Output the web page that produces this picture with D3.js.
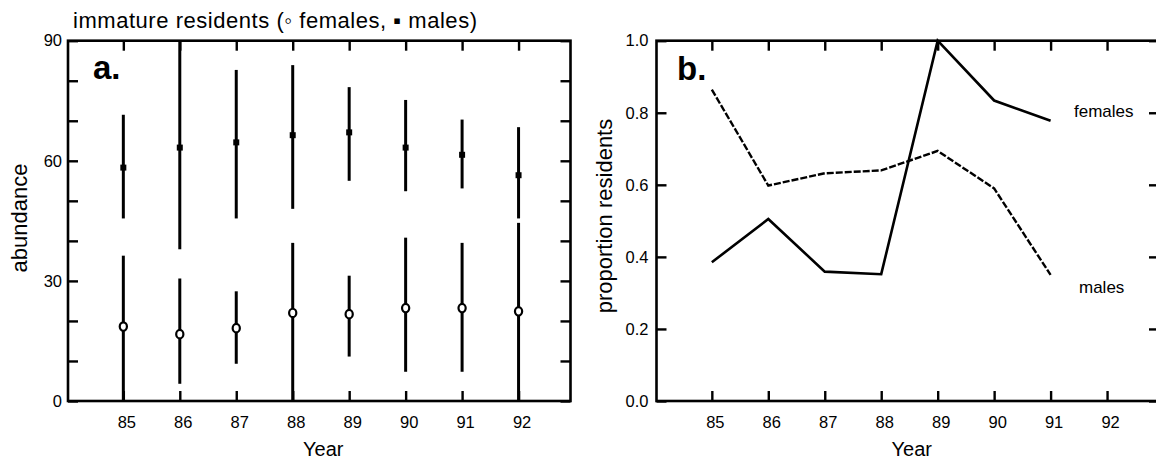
<!DOCTYPE html>
<html>
<head>
<meta charset="utf-8">
<script src="https://cdn.jsdelivr.net/npm/d3@7"></script>
<style>
  html, body { margin: 0; padding: 0; background: #fff; }
  svg { display: block; }
  text { font-family: "Liberation Sans", Arial, Helvetica, sans-serif; fill: #000; }
</style>
</head>
<body>
<svg id="chart" width="1156" height="459"></svg>
<script>
// ---------- data ----------
const years = [85, 86, 87, 88, 89, 90, 91, 92];
const maleMean = [58.3, 63.3, 64.6, 66.4, 67.1, 63.3, 61.5, 56.4];
const maleLow = [45.6, 37.9, 45.6, 48.0, 55.0, 52.4, 53.1, 45.6];
const maleHigh = [71.5, 90.0, 82.7, 83.9, 78.4, 75.2, 70.3, 68.4];
const femaleMean = [18.6, 16.7, 18.2, 22.0, 21.7, 23.2, 23.2, 22.4];
const femaleLow = [0.0, 4.3, 9.3, 0.0, 11.1, 7.3, 7.3, 0.0];
const femaleHigh = [36.3, 30.6, 27.4, 39.5, 31.3, 40.8, 39.5, 44.5];

const propYears = [85, 86, 87, 88, 89, 90, 91];
const propFemales = [0.385, 0.505, 0.359, 0.352, 1.0, 0.834, 0.778];
const propMales = [0.864, 0.598, 0.632, 0.640, 0.694, 0.590, 0.350];

const abundanceTicks = [0, 10, 20, 30, 40, 50, 60, 70, 80, 90];
const abundanceLabels = [0, 30, 60, 90];
const proportionTicks = [0, 0.2, 0.4, 0.6, 0.8, 1.0];

const titleParts = ["immature residents (", "\u25E6", " females, ", "\u25AA", " males)"];

// ---------- layout ----------
const svg = d3.select("#chart");
const plotTop = 40.7, plotBottom = 401;
const panelA = { x0: 68, x1: 570.5 };
const panelB = { x0: 656.5, x1: 1159 };
const xDomain = [84.02, 92.92];
const tickLen = 10;

function frame(p) {
  svg.append("rect")
    .attr("x", p.x0).attr("y", plotTop)
    .attr("width", p.x1 - p.x0).attr("height", plotBottom - plotTop)
    .attr("fill", "none").attr("stroke", "#000").attr("stroke-width", 2.6);
}

function styleAxis(g, labelShiftX) {
  g.select(".domain").remove();
  g.selectAll(".tick line").attr("stroke", "#000").attr("stroke-width", 2.4);
  g.selectAll(".tick text")
    .attr("font-family", '"Liberation Sans", Arial, sans-serif')
    .attr("font-size", 16.5).attr("fill", "#000");
  if (labelShiftX) g.selectAll(".tick text").attr("dx", labelShiftX);
}

function axes(p, x, y, yTicks, yFormat, yPad) {
  const gb = svg.append("g").attr("transform", `translate(0,${plotBottom})`)
    .call(d3.axisBottom(x).tickValues(years).tickFormat(d3.format("d"))
      .tickSizeInner(-tickLen).tickSizeOuter(0).tickPadding(15));
  styleAxis(gb, 3);
  const gt = svg.append("g").attr("transform", `translate(0,${plotTop})`)
    .call(d3.axisTop(x).tickValues(years).tickFormat("")
      .tickSizeInner(-tickLen).tickSizeOuter(0));
  styleAxis(gt);
  const gl = svg.append("g").attr("transform", `translate(${p.x0},0)`)
    .call(d3.axisLeft(y).tickValues(yTicks).tickFormat(yFormat)
      .tickSizeInner(-tickLen).tickSizeOuter(0).tickPadding(yPad));
  styleAxis(gl);
  const gr = svg.append("g").attr("transform", `translate(${p.x1},0)`)
    .call(d3.axisRight(y).tickValues(yTicks).tickFormat("")
      .tickSizeInner(-tickLen).tickSizeOuter(0));
  styleAxis(gr);
}

// ---------- panel a ----------
const xA = d3.scaleLinear().domain(xDomain).range([panelA.x0, panelA.x1]);
const yA = d3.scaleLinear().domain([0, 90]).range([plotBottom, plotTop]);

const title = svg.append("text").attr("x", 73).attr("y", 28)
  .attr("font-size", 22).attr("textLength", 404).attr("lengthAdjust", "spacing");
title.selectAll("tspan").data(titleParts).join("tspan")
  .attr("font-weight", (d, i) => i === 1 ? "bold" : null)
  .text(d => d);

axes(panelA, xA, yA, abundanceTicks,
  d => abundanceLabels.includes(d) ? d : "", 6);

const gA = svg.append("g");
gA.selectAll("line.mbar").data(years).join("line")
  .attr("x1", d => xA(d)).attr("x2", d => xA(d))
  .attr("y1", (d, i) => yA(maleLow[i])).attr("y2", (d, i) => yA(maleHigh[i]))
  .attr("stroke", "#000").attr("stroke-width", 3);
gA.selectAll("line.fbar").data(years).join("line")
  .attr("x1", d => xA(d)).attr("x2", d => xA(d))
  .attr("y1", (d, i) => yA(femaleLow[i])).attr("y2", (d, i) => yA(femaleHigh[i]))
  .attr("stroke", "#000").attr("stroke-width", 3);
gA.selectAll("rect.m").data(years).join("rect")
  .attr("x", d => xA(d) - 3).attr("y", (d, i) => yA(maleMean[i]) - 3)
  .attr("width", 6).attr("height", 6).attr("fill", "#000");
gA.selectAll("ellipse.f").data(years).join("ellipse")
  .attr("cx", d => xA(d)).attr("cy", (d, i) => yA(femaleMean[i]))
  .attr("rx", 3.6).attr("ry", 4.2)
  .attr("fill", "#fff").attr("stroke", "#000").attr("stroke-width", 2.2);

frame(panelA);

svg.append("text").attr("x", 93).attr("y", 78.5)
  .attr("font-size", 33).attr("font-weight", "bold").text("a.");

svg.append("text")
  .attr("transform", `translate(27,218) rotate(-90)`)
  .attr("text-anchor", "middle").attr("font-size", 22).text("abundance");

svg.append("text").attr("x", (panelA.x0 + panelA.x1) / 2 + 4).attr("y", 456)
  .attr("text-anchor", "middle").attr("font-size", 20).text("Year");

// ---------- panel b ----------
const xB = d3.scaleLinear().domain(xDomain).range([panelB.x0, panelB.x1]);
const yB = d3.scaleLinear().domain([0, 1]).range([plotBottom, plotTop]);

axes(panelB, xB, yB, proportionTicks, d3.format(".1f"), 8);

const line = d3.line().x(d => xB(d[0])).y(d => yB(d[1]));
svg.append("path")
  .attr("d", line(propYears.map((d, i) => [d, propFemales[i]])))
  .attr("fill", "none").attr("stroke", "#000").attr("stroke-width", 2.6)
  .attr("stroke-linejoin", "miter");
svg.append("path")
  .attr("d", line(propYears.map((d, i) => [d, propMales[i]])))
  .attr("fill", "none").attr("stroke", "#000").attr("stroke-width", 2.4)
  .attr("stroke-dasharray", "7,2");

frame(panelB);

svg.append("text").attr("x", 677).attr("y", 79.5)
  .attr("font-size", 33).attr("font-weight", "bold").text("b.");

svg.append("text").attr("x", 1074).attr("y", 116.5)
  .attr("font-size", 17).text("females");
svg.append("text").attr("x", 1079).attr("y", 292.5)
  .attr("font-size", 17).text("males");

svg.append("text")
  .attr("transform", `translate(612,216) rotate(-90)`)
  .attr("text-anchor", "middle").attr("font-size", 22).text("proportion residents");

svg.append("text").attr("x", (panelB.x0 + panelB.x1) / 2 + 4).attr("y", 456)
  .attr("text-anchor", "middle").attr("font-size", 20).text("Year");
</script>
</body>
</html>
